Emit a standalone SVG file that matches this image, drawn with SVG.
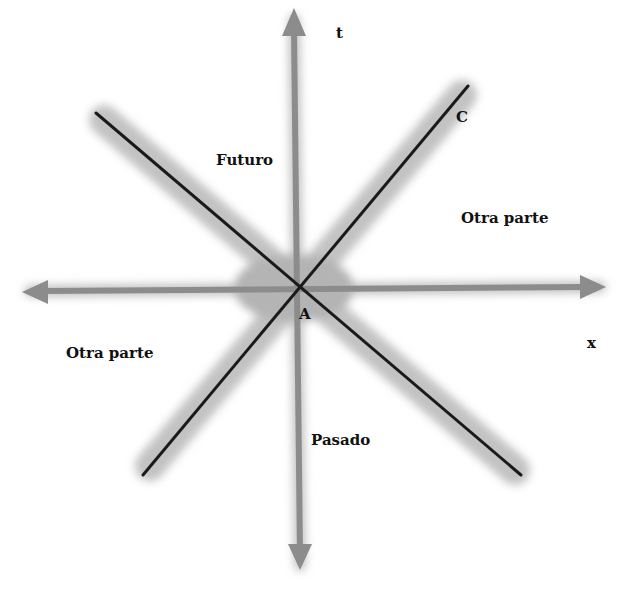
<svg xmlns="http://www.w3.org/2000/svg" width="624" height="594" viewBox="0 0 624 594">
<style>
.lbl{font-family:"DejaVu Serif","Liberation Serif",serif;font-weight:bold;font-size:15px;fill:#111}
.halo{stroke:#c2c2c2;stroke-linecap:round;fill:none}
.axis{stroke:#8c8c8c;stroke-width:6;fill:none}
.head{fill:#8c8c8c}
.cone{stroke:#1a1a1a;stroke-width:3;fill:none;stroke-linecap:round}
</style>
<defs>
<filter id="blur" filterUnits="userSpaceOnUse" x="0" y="0" width="624" height="594"><feGaussianBlur stdDeviation="4"/></filter>
</defs>
<rect width="624" height="594" fill="#ffffff"/>
<g id="connectors">
<g filter="url(#blur)">
<path class="halo" stroke-width="30" d="M104 120 L515 470"/>
<path class="halo" stroke-width="30" d="M150 466 L462 95"/>
<path class="halo" stroke-width="12" d="M30 291 L600 287"/>
<path class="halo" stroke-width="12" d="M294 20 L300 565"/>
<ellipse cx="294" cy="288" rx="60" ry="34" fill="#b4b4b4" stroke="none"/>
</g>
<path class="axis" d="M294 30 L300 555"/>
<polygon class="head" points="294,8 282,36 306,36"/>
<polygon class="head" points="300,570 288,544 312,544"/>
<path class="axis" d="M44 291 L585 287"/>
<polygon class="head" points="22,292 48,280 48,304"/>
<polygon class="head" points="606,287 580,275 580,299"/>
<path class="cone" d="M96 113 L521 475"/>
<path class="cone" d="M143 475 L468 86"/>
</g>
<g id="label-t"><text class="lbl" x="336" y="38">t</text></g>
<g id="label-C"><text class="lbl" x="456" y="122">C</text></g>
<g id="label-futuro"><text class="lbl" x="216" y="165">Futuro</text></g>
<g id="label-otra-derecha"><text class="lbl" x="461" y="223">Otra parte</text></g>
<g id="label-A"><text class="lbl" x="299" y="319">A</text></g>
<g id="label-x"><text class="lbl" x="587" y="348">x</text></g>
<g id="label-otra-izquierda"><text class="lbl" x="66" y="358">Otra parte</text></g>
<g id="label-pasado"><text class="lbl" x="311" y="445">Pasado</text></g>
</svg>
